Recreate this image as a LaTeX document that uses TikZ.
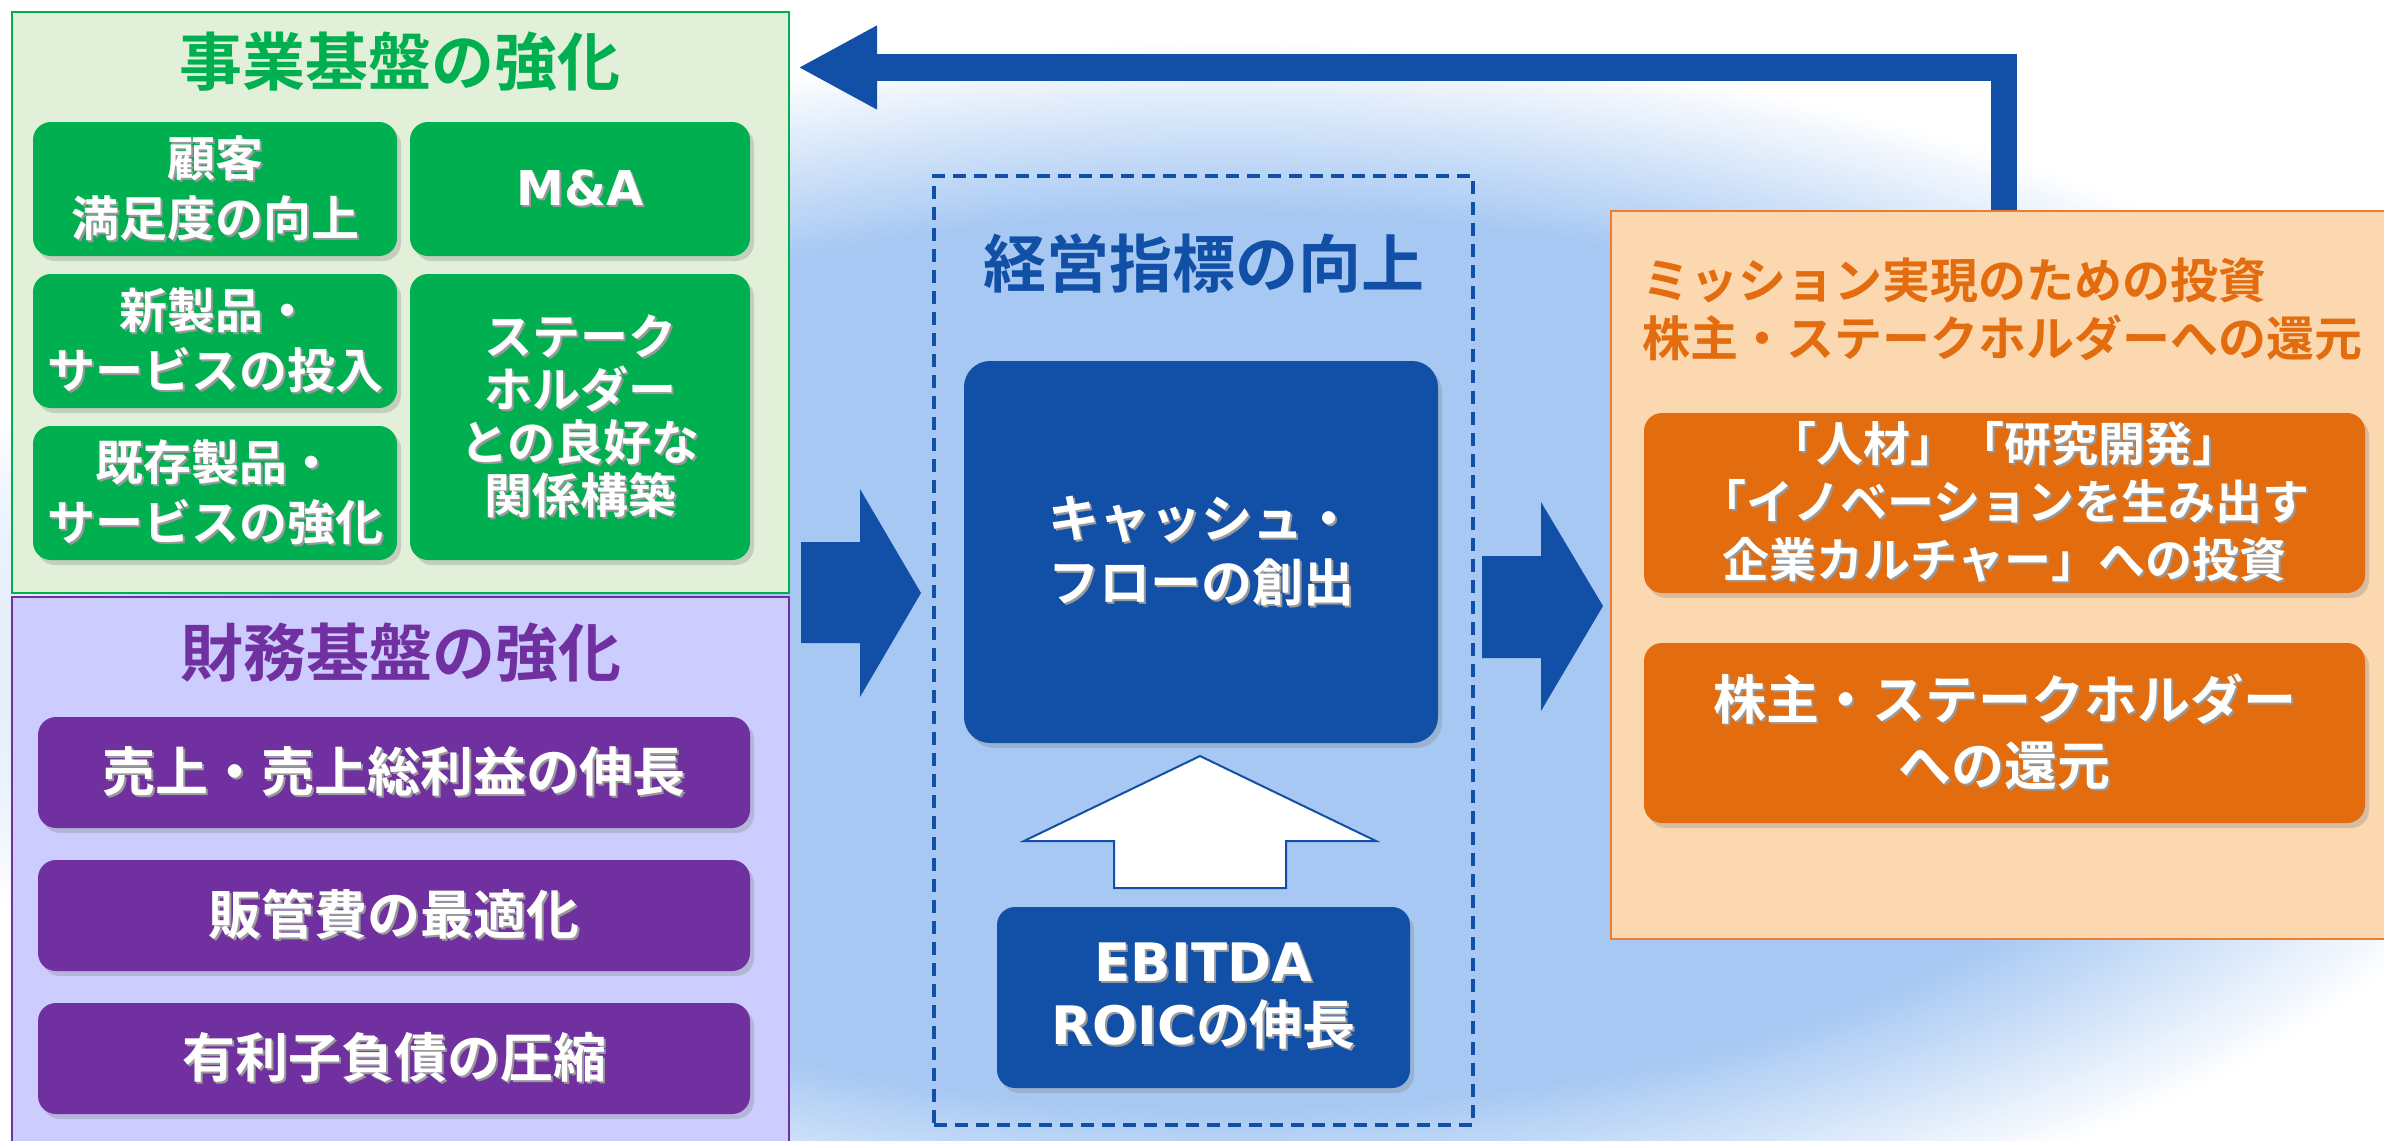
\documentclass[tikz,border=0pt]{standalone}
\usepackage{fontspec}
\setmainfont{Noto Sans CJK JP}[BoldFont={Noto Sans CJK JP Bold}]
\newfontfamily\latinfont{DejaVu Sans}
\usetikzlibrary{shadows,arrows.meta}
\definecolor{bizgreen}{RGB}{0,176,80}
\definecolor{bizgreenbg}{RGB}{226,240,217}
\definecolor{finpurple}{RGB}{112,48,160}
\definecolor{finpurplebg}{RGB}{204,204,255}
\definecolor{kpiblue}{RGB}{17,80,166}
\definecolor{glowblue}{RGB}{166,200,243}
\definecolor{retorange}{RGB}{226,108,14}
\definecolor{retorangebg}{RGB}{252,216,176}
\definecolor{retorangeline}{RGB}{237,125,49}
\pgfdeclareradialshading{glow}{\pgfpoint{0bp}{0bp}}{color(0bp)=(glowblue); color(18bp)=(glowblue); color(25bp)=(white); color(50bp)=(white)}
\newcommand\ltn[1]{{\latinfont\bfseries #1}}
% white text with a soft dark shadow
\newcommand\sh[1]{\leavevmode\rlap{\kern2pt\raisebox{-2pt}{\color{black!40}#1}}#1}
\tikzset{
  panel/.style={line width=2pt, inner sep=0pt},
  btn/.style={rounded corners=18pt, text=white, align=center, inner sep=0pt,
    drop shadow={shadow xshift=4pt, shadow yshift=-5pt, opacity=0.3}},
  heading/.style={font=\bfseries\fontsize{63pt}{70pt}\selectfont, inner sep=0pt},
}
\begin{document}
\begin{tikzpicture}[x=1pt,y=-1pt]
\useasboundingbox (0,0) rectangle (2384,1140);
\fill[white] (0,0) rectangle (2384,1140);
\shade[shading=glow] (1230,660) ellipse [x radius=1340pt, y radius=620pt];

% return arrow
\coordinate (retcorner) at (2003.5,67.5);
\coordinate (rettip) at (798,67.5);
\node[panel, draw=retorangeline, fill=retorangebg, minimum width=779pt, minimum height=728pt] (retbox) at (2000.5,575) {};
\draw[kpiblue, line width=26pt, line join=miter, -{Triangle[length=79pt,width=78pt]}] (retcorner |- retbox.north) -- (retcorner) -- (rettip);

% business base
\node[panel, draw=bizgreen, fill=bizgreenbg, minimum width=777pt, minimum height=581pt] (bizbox) at (400.5,302.5) {};
\node[heading, text=bizgreen] (biztitle) at (400,62) {事業基盤の強化};
\begin{scope}[every node/.style={btn, fill=bizgreen, font=\bfseries\fontsize{48pt}{60pt}\selectfont}]
\node[minimum width=364pt, minimum height=134pt] (cust) at (215,189) {\sh{顧客}\\\sh{満足度の向上}};
\node[minimum width=340pt, minimum height=134pt] (ma) at (580,189) {\sh{\ltn{M\&A}}};
\node[minimum width=364pt, minimum height=134pt] (newprod) at (215,341) {\sh{新製品・}\\\sh{サービスの投入}};
\node[minimum width=364pt, minimum height=134pt] (curprod) at (215,493) {\sh{既存製品・}\\\sh{サービスの強化}};
\node[minimum width=340pt, minimum height=286pt, font=\bfseries\fontsize{48pt}{53pt}\selectfont] (stake) at (580,417) {\sh{ステーク}\\\sh{ホルダー}\\\sh{との良好な}\\\sh{関係構築}};
\end{scope}

% financial base
\node[panel, draw=finpurple, fill=finpurplebg, minimum width=777pt, minimum height=560pt] (finbox) at (400.5,877) {};
\node[heading, text=finpurple] (fintitle) at (401,653) {財務基盤の強化};
\begin{scope}[every node/.style={btn, fill=finpurple, minimum width=712pt, minimum height=111pt, font=\bfseries\fontsize{53pt}{60pt}\selectfont}]
\node (sales) at (394,772.5) {\sh{売上・売上総利益の伸長}};
\node (sga) at (394,915.5) {\sh{販管費の最適化}};
\node (debt) at (394,1058.5) {\sh{有利子負債の圧縮}};
\end{scope}

% management indicators
\node[draw=kpiblue, line width=4.5pt, dash pattern=on 13pt off 8pt, minimum width=539pt, minimum height=949pt] (kpibox) at (1203.5,650.5) {};
\node[heading, text=kpiblue] (kpititle) at (1204,264) {経営指標の向上};
\node[btn, fill=kpiblue, rounded corners=26pt, minimum width=474pt, minimum height=382pt, font=\bfseries\fontsize{51pt}{64pt}\selectfont] (cash) at (1201,552) {\sh{キャッシュ・}\\\sh{フローの創出}};
\node[btn, fill=kpiblue, minimum width=413pt, minimum height=181pt, font=\bfseries\fontsize{53pt}{63pt}\selectfont] (ebitda) at (1203.5,997.5) {\sh{\ltn{EBITDA}}\\\sh{\ltn{ROIC}の伸長}};
\draw[kpiblue, line width=2pt, fill=white] (1114,888) -- (1114,841) -- (1024,841) -- (1200,756) -- (1376,841) -- (1286,841) -- (1286,888) -- cycle;

% block arrows
\fill[kpiblue] (801,542) -- (860,542) -- (860,489) -- (921,593) -- (860,697) -- (860,643) -- (801,643) -- cycle;
\fill[kpiblue] (1482,556) -- (1541,556) -- (1541,502) -- (1603,606) -- (1541,711) -- (1541,658) -- (1482,658) -- cycle;

% investment and return
\node[anchor=west, align=left, text=retorange, inner sep=0pt, font=\bfseries\fontsize{48pt}{58pt}\selectfont] (rettitle) at (1642,309) {ミッション実現のための投資\\株主・ステークホルダーへの還元};
\begin{scope}[every node/.style={btn, fill=retorange, minimum width=721pt, minimum height=180pt}]
\node[font=\bfseries\fontsize{47pt}{58pt}\selectfont] (invest) at (2004.5,503) {\sh{「人材」「研究開発」}\\\sh{「イノベーションを生み出す}\\\sh{企業カルチャー」への投資}};
\node[font=\bfseries\fontsize{53pt}{66pt}\selectfont] (payout) at (2004.5,733) {\sh{株主・ステークホルダー}\\\sh{への還元}};
\end{scope}
\end{tikzpicture}
\end{document}
